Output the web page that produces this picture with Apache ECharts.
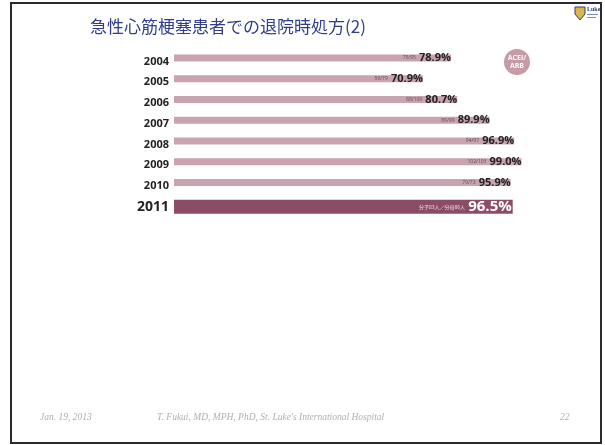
<!DOCTYPE html>
<html>
<head>
<meta charset="utf-8">
<script src="https://cdn.jsdelivr.net/npm/echarts@6/dist/echarts.min.js"></script>
<style>
  html, body { margin: 0; padding: 0; background: #fff; }
  #chart { width: 605px; height: 445px; }
</style>
</head>
<body>
<div id="chart"></div>
<script>
// Discharge prescription rate (ACEI/ARB) after acute myocardial infarction
const years = ['2004', '2005', '2006', '2007', '2008', '2009', '2010', '2011'];
const rates = [78.9, 70.9, 80.7, 89.9, 96.9, 99.0, 95.9, 96.5];
const numerators = [75, 56, 88, 89, 94, 102, 70, 83];
const denominators = [95, 79, 109, 99, 97, 103, 73, 86];
const highlightYear = '2011';

const jp = '"Noto Sans CJK JP", "Noto Sans", sans-serif';
const sans = '"Open Sans", "Noto Sans", sans-serif';
const serif = '"Liberation Serif", "DejaVu Serif", serif';

const chart = echarts.init(document.getElementById('chart'));

const normalData = years.map((y, i) => (y === highlightYear ? '-' : rates[i]));
const highlightData = years.map((y, i) => (y === highlightYear ? rates[i] : '-'));

function fractionText(i) {
  if (years[i] === highlightYear) {
    return '分子' + numerators[i] + '人／分母' + denominators[i] + '人';
  }
  return numerators[i] + '/' + denominators[i];
}

chart.setOption({
  animation: false,
  backgroundColor: '#ffffff',
  textStyle: { fontFamily: sans },
  grid: { left: 174, top: 51, width: 351, height: 166, containLabel: false },
  xAxis: {
    type: 'value', min: 0, max: 100,
    show: false
  },
  yAxis: {
    type: 'category',
    data: years,
    inverse: true,
    axisLine: { show: false },
    axisTick: { show: false },
    splitLine: { show: false },
    axisLabel: {
      margin: 5,
      formatter: v => (v === highlightYear ? '{big|' + v + '}' : '{n|' + v + '}'),
      rich: {
        n: { fontSize: 11, fontWeight: 'bold', color: '#222', fontFamily: sans },
        big: { fontSize: 14, fontWeight: 'bold', color: '#222', fontFamily: sans }
      }
    }
  },
  series: [
    {
      type: 'bar',
      data: normalData,
      barWidth: 7,
      itemStyle: { color: '#c9a3ad' },
      label: {
        show: true,
        position: 'insideRight',
        distance: 0,
        formatter: p => '{f|' + fractionText(p.dataIndex) + '} {v|' + rates[p.dataIndex].toFixed(1) + '%}',
        rich: {
          f: { fontSize: 5, color: '#5e4e55', fontFamily: sans },
          v: { fontSize: 11, fontWeight: 'bold', color: '#222', fontFamily: sans }
        }
      }
    },
    {
      type: 'bar',
      data: highlightData,
      barWidth: 14,
      barGap: '-100%',
      itemStyle: { color: '#8c4c66' },
      label: {
        show: true,
        position: 'insideRight',
        distance: 1,
        formatter: p => '{f|' + fractionText(p.dataIndex) + '} {v|' + rates[p.dataIndex].toFixed(1) + '%}',
        rich: {
          f: { fontSize: 5, color: '#f0e4e8', fontFamily: jp },
          v: { fontSize: 15, fontWeight: 'bold', color: '#ffffff', fontFamily: sans }
        }
      }
    }
  ],
  graphic: [
    // slide frame
    { type: 'rect', shape: { x: 11, y: 3, width: 590, height: 440 },
      style: { fill: 'none', stroke: '#2a2a2a', lineWidth: 2 }, z: 10 },
    // title
    { type: 'text', left: 90, top: 18,
      style: { text: '急性心筋梗塞患者での退院時処方(2)', font: '17px ' + jp, fill: '#2f3d8c' } },
    // ACEI/ARB badge
    { type: 'circle', shape: { cx: 517, cy: 62, r: 13 }, style: { fill: '#c69ba6' } },
    { type: 'text', x: 517, y: 62,
      style: { text: 'ACEI/\nARB', font: 'bold 7px ' + sans, fill: '#ffffff',
               align: 'center', verticalAlign: 'middle', lineHeight: 8 } },
    // hospital emblem
    { type: 'polygon', shape: { points: [[575, 7], [585, 7], [585, 14], [580, 20], [575, 14]] },
      style: { fill: '#d8b84e', stroke: '#2c3f7a', lineWidth: 1 } },
    { type: 'text', x: 587, y: 6,
      style: { text: 'Luke', font: 'bold 6px ' + serif, fill: '#2c3f7a' } },
    { type: 'rect', shape: { x: 587, y: 14, width: 11, height: 1 }, style: { fill: '#7a8ab0' } },
    { type: 'rect', shape: { x: 587, y: 17, width: 9, height: 1 }, style: { fill: '#7a8ab0' } },
    // footer
    { type: 'text', x: 40, y: 412,
      style: { text: 'Jan. 19, 2013', font: 'italic 9.5px ' + serif, fill: '#b0b0b0' } },
    { type: 'text', x: 157, y: 412,
      style: { text: "T. Fukui, MD, MPH, PhD, St. Luke's International Hospital", font: 'italic 9.5px ' + serif, fill: '#b0b0b0' } },
    { type: 'text', x: 560, y: 412,
      style: { text: '22', font: 'italic 9.5px ' + serif, fill: '#b0b0b0' } }
  ]
});
</script>
</body>
</html>
